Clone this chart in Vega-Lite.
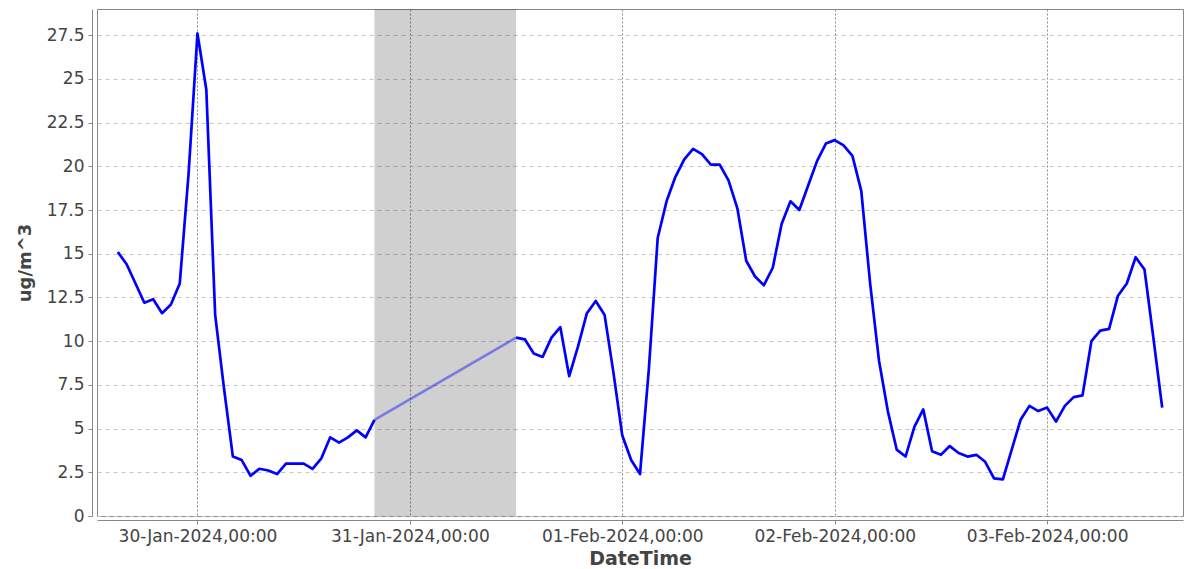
{
  "$schema": "https://vega.github.io/schema/vega-lite/v6.json",
  "width": 1086,
  "height": 507,
  "autosize": {"type": "none"},
  "padding": {"left": 97, "top": 9, "right": 2, "bottom": 53},
  "background": "white",
  "config": {
    "font": "DejaVu Sans",
    "view": {"stroke": "#888888", "strokeWidth": 1}
  },
  "datasets": {
    "pm": [
      {"t": "2024-01-29T15:00", "v": 15.1, "seg": "a"},
      {"t": "2024-01-29T16:00", "v": 14.4, "seg": "a"},
      {"t": "2024-01-29T17:00", "v": 13.3, "seg": "a"},
      {"t": "2024-01-29T18:00", "v": 12.2, "seg": "a"},
      {"t": "2024-01-29T19:00", "v": 12.4, "seg": "a"},
      {"t": "2024-01-29T20:00", "v": 11.6, "seg": "a"},
      {"t": "2024-01-29T21:00", "v": 12.1, "seg": "a"},
      {"t": "2024-01-29T22:00", "v": 13.3, "seg": "a"},
      {"t": "2024-01-29T23:00", "v": 19.6, "seg": "a"},
      {"t": "2024-01-30T00:00", "v": 27.6, "seg": "a"},
      {"t": "2024-01-30T01:00", "v": 24.4, "seg": "a"},
      {"t": "2024-01-30T02:00", "v": 11.5, "seg": "a"},
      {"t": "2024-01-30T03:00", "v": 7.3, "seg": "a"},
      {"t": "2024-01-30T04:00", "v": 3.4, "seg": "a"},
      {"t": "2024-01-30T05:00", "v": 3.2, "seg": "a"},
      {"t": "2024-01-30T06:00", "v": 2.3, "seg": "a"},
      {"t": "2024-01-30T07:00", "v": 2.7, "seg": "a"},
      {"t": "2024-01-30T08:00", "v": 2.6, "seg": "a"},
      {"t": "2024-01-30T09:00", "v": 2.4, "seg": "a"},
      {"t": "2024-01-30T10:00", "v": 3.0, "seg": "a"},
      {"t": "2024-01-30T11:00", "v": 3.0, "seg": "a"},
      {"t": "2024-01-30T12:00", "v": 3.0, "seg": "a"},
      {"t": "2024-01-30T13:00", "v": 2.7, "seg": "a"},
      {"t": "2024-01-30T14:00", "v": 3.3, "seg": "a"},
      {"t": "2024-01-30T15:00", "v": 4.5, "seg": "a"},
      {"t": "2024-01-30T16:00", "v": 4.2, "seg": "a"},
      {"t": "2024-01-30T17:00", "v": 4.5, "seg": "a"},
      {"t": "2024-01-30T18:00", "v": 4.9, "seg": "a"},
      {"t": "2024-01-30T19:00", "v": 4.5, "seg": "a"},
      {"t": "2024-01-30T20:00", "v": 5.5, "seg": "a"},
      {"t": "2024-01-31T12:00", "v": 10.2, "seg": "b"},
      {"t": "2024-01-31T13:00", "v": 10.1, "seg": "b"},
      {"t": "2024-01-31T14:00", "v": 9.3, "seg": "b"},
      {"t": "2024-01-31T15:00", "v": 9.1, "seg": "b"},
      {"t": "2024-01-31T16:00", "v": 10.2, "seg": "b"},
      {"t": "2024-01-31T17:00", "v": 10.8, "seg": "b"},
      {"t": "2024-01-31T18:00", "v": 8.0, "seg": "b"},
      {"t": "2024-01-31T19:00", "v": 9.7, "seg": "b"},
      {"t": "2024-01-31T20:00", "v": 11.6, "seg": "b"},
      {"t": "2024-01-31T21:00", "v": 12.3, "seg": "b"},
      {"t": "2024-01-31T22:00", "v": 11.5, "seg": "b"},
      {"t": "2024-01-31T23:00", "v": 8.2, "seg": "b"},
      {"t": "2024-02-01T00:00", "v": 4.6, "seg": "b"},
      {"t": "2024-02-01T01:00", "v": 3.2, "seg": "b"},
      {"t": "2024-02-01T02:00", "v": 2.4, "seg": "b"},
      {"t": "2024-02-01T03:00", "v": 8.4, "seg": "b"},
      {"t": "2024-02-01T04:00", "v": 15.9, "seg": "b"},
      {"t": "2024-02-01T05:00", "v": 18.0, "seg": "b"},
      {"t": "2024-02-01T06:00", "v": 19.4, "seg": "b"},
      {"t": "2024-02-01T07:00", "v": 20.4, "seg": "b"},
      {"t": "2024-02-01T08:00", "v": 21.0, "seg": "b"},
      {"t": "2024-02-01T09:00", "v": 20.7, "seg": "b"},
      {"t": "2024-02-01T10:00", "v": 20.1, "seg": "b"},
      {"t": "2024-02-01T11:00", "v": 20.1, "seg": "b"},
      {"t": "2024-02-01T12:00", "v": 19.2, "seg": "b"},
      {"t": "2024-02-01T13:00", "v": 17.6, "seg": "b"},
      {"t": "2024-02-01T14:00", "v": 14.6, "seg": "b"},
      {"t": "2024-02-01T15:00", "v": 13.7, "seg": "b"},
      {"t": "2024-02-01T16:00", "v": 13.2, "seg": "b"},
      {"t": "2024-02-01T17:00", "v": 14.2, "seg": "b"},
      {"t": "2024-02-01T18:00", "v": 16.7, "seg": "b"},
      {"t": "2024-02-01T19:00", "v": 18.0, "seg": "b"},
      {"t": "2024-02-01T20:00", "v": 17.5, "seg": "b"},
      {"t": "2024-02-01T21:00", "v": 18.9, "seg": "b"},
      {"t": "2024-02-01T22:00", "v": 20.3, "seg": "b"},
      {"t": "2024-02-01T23:00", "v": 21.3, "seg": "b"},
      {"t": "2024-02-02T00:00", "v": 21.5, "seg": "b"},
      {"t": "2024-02-02T01:00", "v": 21.2, "seg": "b"},
      {"t": "2024-02-02T02:00", "v": 20.6, "seg": "b"},
      {"t": "2024-02-02T03:00", "v": 18.6, "seg": "b"},
      {"t": "2024-02-02T04:00", "v": 13.3, "seg": "b"},
      {"t": "2024-02-02T05:00", "v": 8.9, "seg": "b"},
      {"t": "2024-02-02T06:00", "v": 6.0, "seg": "b"},
      {"t": "2024-02-02T07:00", "v": 3.8, "seg": "b"},
      {"t": "2024-02-02T08:00", "v": 3.4, "seg": "b"},
      {"t": "2024-02-02T09:00", "v": 5.1, "seg": "b"},
      {"t": "2024-02-02T10:00", "v": 6.1, "seg": "b"},
      {"t": "2024-02-02T11:00", "v": 3.7, "seg": "b"},
      {"t": "2024-02-02T12:00", "v": 3.5, "seg": "b"},
      {"t": "2024-02-02T13:00", "v": 4.0, "seg": "b"},
      {"t": "2024-02-02T14:00", "v": 3.6, "seg": "b"},
      {"t": "2024-02-02T15:00", "v": 3.4, "seg": "b"},
      {"t": "2024-02-02T16:00", "v": 3.5, "seg": "b"},
      {"t": "2024-02-02T17:00", "v": 3.1, "seg": "b"},
      {"t": "2024-02-02T18:00", "v": 2.15, "seg": "b"},
      {"t": "2024-02-02T19:00", "v": 2.1, "seg": "b"},
      {"t": "2024-02-02T20:00", "v": 3.8, "seg": "b"},
      {"t": "2024-02-02T21:00", "v": 5.5, "seg": "b"},
      {"t": "2024-02-02T22:00", "v": 6.3, "seg": "b"},
      {"t": "2024-02-02T23:00", "v": 6.0, "seg": "b"},
      {"t": "2024-02-03T00:00", "v": 6.2, "seg": "b"},
      {"t": "2024-02-03T01:00", "v": 5.4, "seg": "b"},
      {"t": "2024-02-03T02:00", "v": 6.3, "seg": "b"},
      {"t": "2024-02-03T03:00", "v": 6.8, "seg": "b"},
      {"t": "2024-02-03T04:00", "v": 6.9, "seg": "b"},
      {"t": "2024-02-03T05:00", "v": 10.0, "seg": "b"},
      {"t": "2024-02-03T06:00", "v": 10.6, "seg": "b"},
      {"t": "2024-02-03T07:00", "v": 10.7, "seg": "b"},
      {"t": "2024-02-03T08:00", "v": 12.6, "seg": "b"},
      {"t": "2024-02-03T09:00", "v": 13.3, "seg": "b"},
      {"t": "2024-02-03T10:00", "v": 14.8, "seg": "b"},
      {"t": "2024-02-03T11:00", "v": 14.1, "seg": "b"},
      {"t": "2024-02-03T12:00", "v": 10.2, "seg": "b"},
      {"t": "2024-02-03T13:00", "v": 6.2, "seg": "b"}
    ],
    "gap": [
      {"t": "2024-01-30T20:00", "v": 5.5},
      {"t": "2024-01-31T12:00", "v": 10.2}
    ],
    "band": [
      {"start": "2024-01-30T20:00", "end": "2024-01-31T12:00"}
    ]
  },
  "layer": [
    {
      "data": {"name": "band"},
      "mark": {"type": "rect", "color": "#000000", "opacity": 0.185},
      "encoding": {
        "x": {
          "field": "start",
          "type": "temporal",
          "scale": {
            "domain": [
              {"year": 2024, "month": 1, "date": 29, "hours": 12, "minutes": 39},
              {"year": 2024, "month": 2, "date": 3, "hours": 15, "minutes": 21}
            ]
          },
          "axis": {
            "title": "DateTime",
            "values": [
              {"year": 2024, "month": 1, "date": 30},
              {"year": 2024, "month": 1, "date": 31},
              {"year": 2024, "month": 2, "date": 1},
              {"year": 2024, "month": 2, "date": 2},
              {"year": 2024, "month": 2, "date": 3}
            ],
            "format": "%d-%b-%Y,%H:%M",
            "offset": 4,
            "domainColor": "#888888",
            "tickColor": "#888888",
            "tickSize": 4,
            "labelFontSize": 17,
            "labelColor": "#444444",
            "labelPadding": 4,
            "labelFlush": false,
            "grid": true,
            "gridColor": "#8c8c8c",
            "gridDash": [2, 2],
            "titleFontSize": 19,
            "titleFontWeight": "bold",
            "titleColor": "#444444",
            "titlePadding": 5
          }
        },
        "x2": {"field": "end"}
      }
    },
    {
      "data": {"name": "gap"},
      "mark": {"type": "line", "color": "#0000ff", "strokeWidth": 2.5, "opacity": 0.42},
      "encoding": {
        "x": {"field": "t", "type": "temporal"},
        "y": {"field": "v", "type": "quantitative"}
      }
    },
    {
      "data": {"name": "pm"},
      "mark": {"type": "line", "color": "#0000ff", "strokeWidth": 2.7, "strokeJoin": "round"},
      "encoding": {
        "x": {"field": "t", "type": "temporal"},
        "y": {
          "field": "v",
          "type": "quantitative",
          "scale": {"domain": [0, 29], "nice": false, "zero": false},
          "axis": {
            "title": "ug/m^3",
            "values": [0, 2.5, 5, 7.5, 10, 12.5, 15, 17.5, 20, 22.5, 25, 27.5],
            "format": ".1~f",
            "offset": 5,
            "domainColor": "#888888",
            "tickColor": "#888888",
            "tickSize": 4,
            "labelFontSize": 17,
            "labelColor": "#444444",
            "labelPadding": 4,
            "labelFlush": false,
            "grid": true,
            "gridColor": "#c4c4c4",
            "gridDash": [4, 4],
            "titleFontSize": 18,
            "titleFontWeight": "bold",
            "titleColor": "#444444",
            "titlePadding": 12
          }
        },
        "detail": {"field": "seg", "type": "nominal"}
      }
    }
  ]
}
